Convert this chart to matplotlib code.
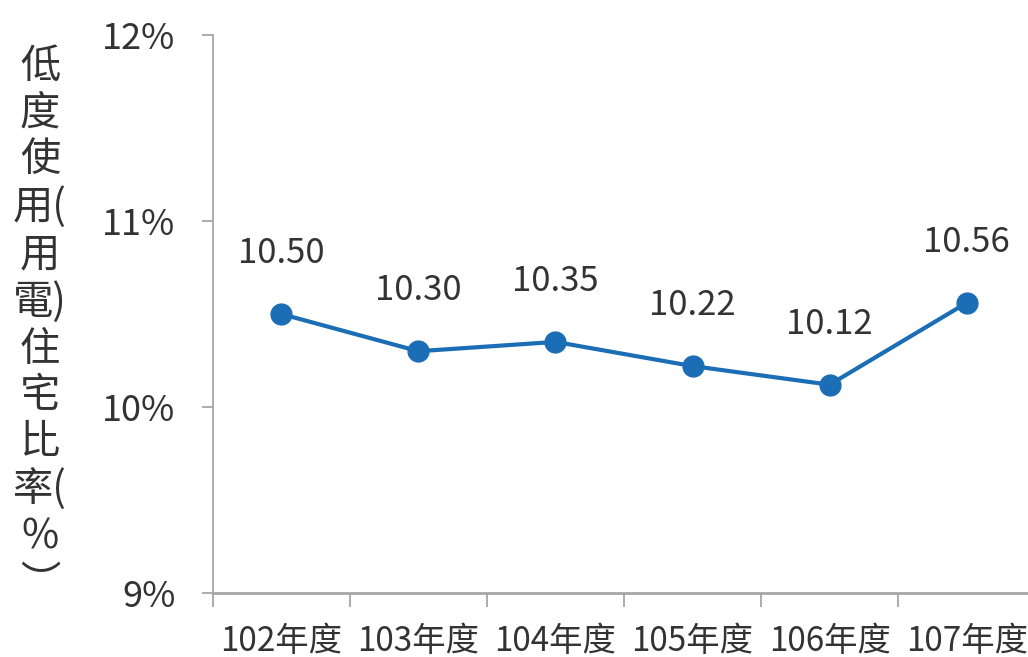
import matplotlib
matplotlib.use("Agg")
import matplotlib.pyplot as plt
from matplotlib.ticker import FuncFormatter

plt.rcParams['font.family'] = ['Noto Sans CJK TC', 'DejaVu Sans']

# datos
years = ["102年度", "103年度", "104年度", "105年度", "106年度", "107年度"]
ratios = [10.50, 10.30, 10.35, 10.22, 10.12, 10.56]
y_ticks = [9, 10, 11, 12]
y_label_rows = ["低", "度", "使", "用(", "用", "電)", "住", "宅", "比", "率(", "%", "︶"]

line_color = "#1b6db5"
text_color = "#333333"
axis_color = "#a6a6a6"

fig = plt.figure(figsize=(10.28, 6.57), dpi=100)
ax = fig.add_axes([0.207, 0.0974, 0.80, 0.8493])

x = list(range(len(years)))
ax.plot(x, ratios, color=line_color, linewidth=3, marker="o", markersize=15,
        zorder=3)

for xi, v in zip(x, ratios):
    ax.annotate(f"{v:.2f}", (xi, v), xytext=(0, 31), textcoords="offset points",
                ha="center", va="bottom", fontsize=25, color=text_color)

ax.set_xlim(-0.5, len(years) - 0.5)
ax.set_ylim(9, 12)
ax.set_yticks(y_ticks)
ax.yaxis.set_major_formatter(FuncFormatter(lambda v, p: f"{v:.0f}%"))
ax.set_xticks([i - 0.5 for i in range(len(years) + 1)])
ax.set_xticklabels([])
ax.set_xticks(x, minor=True)
ax.set_xticklabels(years, minor=True)

ax.tick_params(axis="y", which="major", direction="out", length=8, width=1.3,
               color=axis_color, labelsize=26, labelcolor=text_color, pad=19)
ax.tick_params(axis="x", which="major", direction="out", length=10, width=1.3,
               color=axis_color)
ax.tick_params(axis="x", which="minor", length=0, labelsize=24,
               labelcolor=text_color, pad=22)

for side in ["top", "right"]:
    ax.spines[side].set_visible(False)
ax.spines["left"].set_color(axis_color)
ax.spines["left"].set_linewidth(1.3)
ax.spines["bottom"].set_color(axis_color)
ax.spines["bottom"].set_linewidth(2)

fig.text(0.039, 0.505, "\n".join(y_label_rows), ha="center", va="center",
         fontsize=29, color=text_color, linespacing=1.18)

plt.savefig("out.png", dpi=100)
plt.close()
